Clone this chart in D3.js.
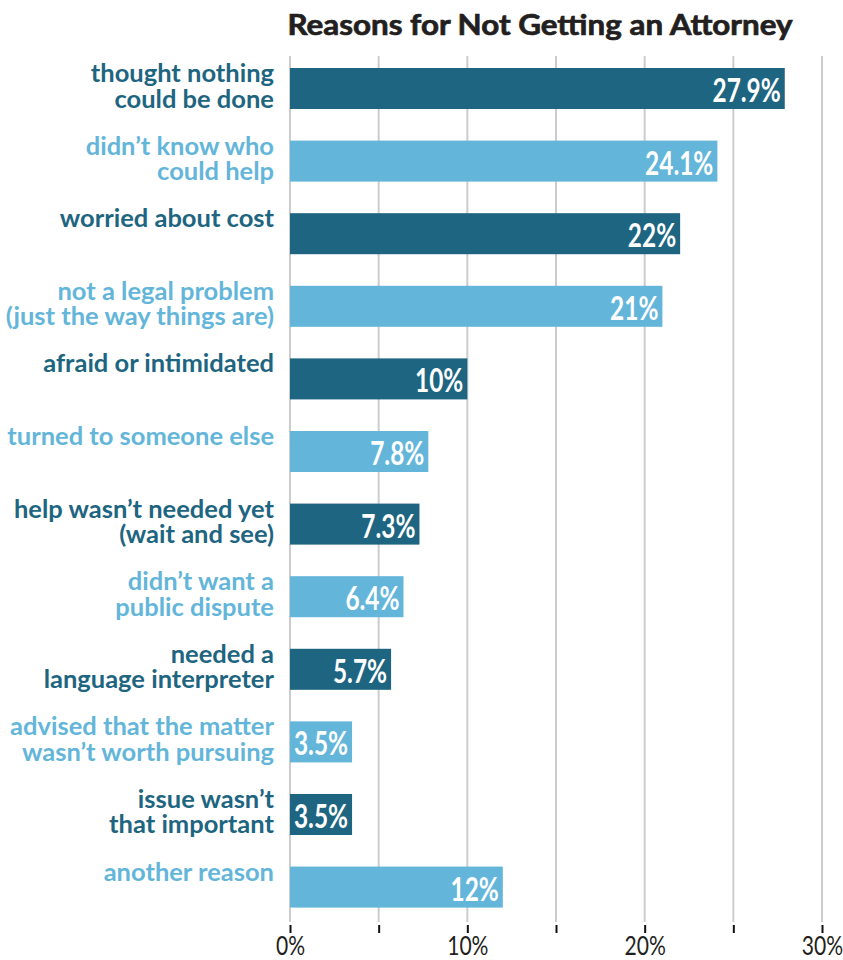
<!DOCTYPE html>
<html>
<head>
<meta charset="utf-8">
<script src="https://cdn.jsdelivr.net/npm/d3@7"></script>
<style>
  html, body { margin: 0; padding: 0; background: #ffffff; }
  svg { display: block; }
</style>
</head>
<body>
<svg id="chart" width="843" height="960"></svg>
<script>
// ---- data ----
const title = "Reasons for Not Getting an Attorney";
const categories = [
  ["thought nothing", "could be done"],
  ["didn’t know who", "could help"],
  ["worried about cost"],
  ["not a legal problem", "(just the way things are)"],
  ["afraid or intimidated"],
  ["turned to someone else"],
  ["help wasn’t needed yet", "(wait and see)"],
  ["didn’t want a", "public dispute"],
  ["needed a", "language interpreter"],
  ["advised that the matter", "wasn’t worth pursuing"],
  ["issue wasn’t", "that important"],
  ["another reason"]
];
const values = [27.9, 24.1, 22, 21, 10, 7.8, 7.3, 6.4, 5.7, 3.5, 3.5, 12];
const gridValues = [0, 5, 10, 15, 20, 25, 30];
const tickLabelValues = [0, 10, 20, 30];
const colors = ["#1d6580", "#63b6da"];

// ---- layout ----
const svg = d3.select("#chart");
const x = d3.scaleLinear().domain([0, 30]).range([290, 822]);
const ids = d3.range(categories.length);
const y = d3.scaleBand().domain(ids).range([68, 907.6]).paddingInner(0.435).paddingOuter(0);

// title (widened, heavy)
svg.append("text")
  .attr("transform", "translate(540,35) scale(1.12,1)")
  .attr("text-anchor", "middle")
  .attr("font-family", "Lato, 'Open Sans', sans-serif")
  .attr("font-weight", 700)
  .attr("font-size", 28)
  .attr("fill", "#231f20")
  .attr("stroke", "#231f20")
  .attr("stroke-width", 0.7)
  .text(title);

// gridlines
svg.append("g").selectAll("line").data(gridValues).join("line")
  .attr("x1", d => x(d)).attr("x2", d => x(d))
  .attr("y1", 56).attr("y2", 922)
  .attr("stroke", "#cccccc").attr("stroke-width", 2);

// axis ticks + labels
const axis = d3.axisBottom(x).tickValues(gridValues).tickSize(8).tickPadding(6)
  .tickFormat(d => tickLabelValues.includes(d) ? d + "%" : "");
const axG = svg.append("g").attr("transform", "translate(0,925)").call(axis);
axG.select(".domain").remove();
axG.selectAll(".tick line").attr("stroke", "#111").attr("stroke-width", 2);
axG.selectAll(".tick text")
  .attr("font-family", "Lato, sans-serif")
  .attr("font-weight", 400)
  .attr("font-size", 27)
  .attr("fill", "#231f20")
  .attr("dy", null).attr("y", 30).attr("x", 0)
  .attr("transform", "scale(0.78,1)");

// bars
svg.append("g").selectAll("rect").data(ids).join("rect")
  .attr("x", x(0))
  .attr("y", i => y(i))
  .attr("width", i => x(values[i]) - x(0))
  .attr("height", y.bandwidth())
  .attr("fill", i => colors[i % 2]);

// value labels (condensed)
const sx = 0.74;
svg.append("g").selectAll("text").data(ids).join("text")
  .attr("transform", i => `translate(${x(values[i]) - 4},${y(i) + 34}) scale(${sx},1)`)
  .attr("text-anchor", "end")
  .attr("font-family", "Lato, sans-serif")
  .attr("font-weight", 700)
  .attr("font-size", 33)
  .attr("fill", "#ffffff")
  .text(i => values[i] + "%");

// category labels
const lab = svg.append("g").selectAll("text").data(ids).join("text")
  .attr("text-anchor", "end")
  .attr("font-family", "Lato, sans-serif")
  .attr("font-weight", 700)
  .attr("font-size", 25.5)
  .attr("fill", i => colors[i % 2]);
lab.selectAll("tspan").data(i => categories[i].map((s, k) => ({s, k, i}))).join("tspan")
  .attr("x", 274)
  .attr("y", d => y(d.i) + 14 + d.k * 25.5)
  .text(d => d.s);
</script>
</body>
</html>
